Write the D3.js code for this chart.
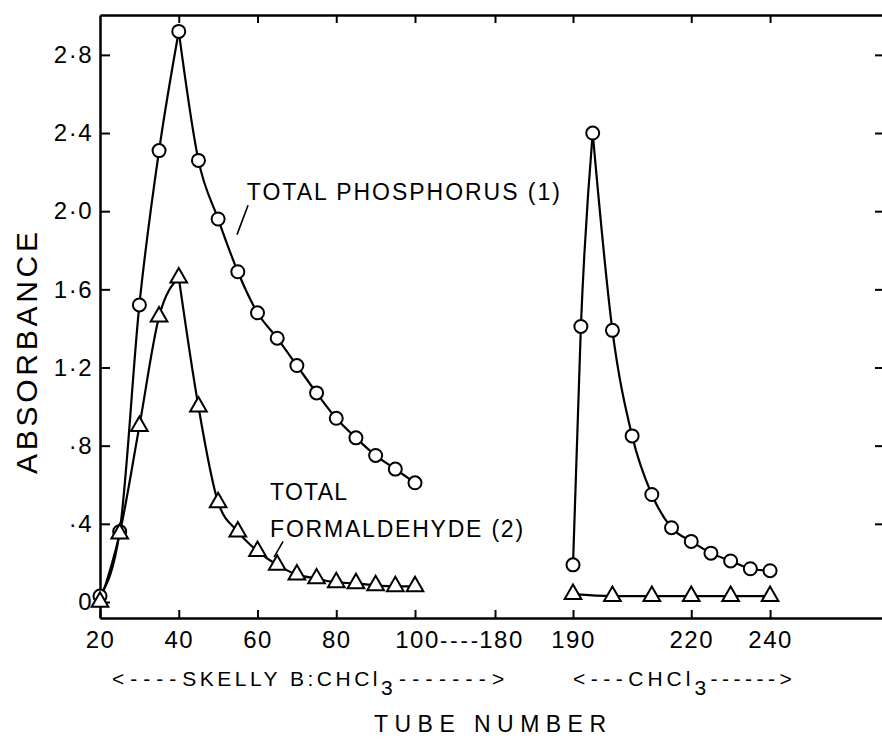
<!DOCTYPE html>
<html>
<head>
<meta charset="utf-8">
<script src="https://cdn.jsdelivr.net/npm/d3@7"></script>
<style>
  body { margin: 0; background: #fff; }
  svg { display: block; font-family: "Liberation Sans", Arial, sans-serif; }
</style>
</head>
<body>
<svg width="882" height="740"></svg>
<script>
// tube numbers and absorbance
var phosTubesA = [20, 25, 30, 35, 40, 45, 50, 55, 60, 65, 70, 75, 80, 85, 90, 95, 100];
var phosValsA = [0.03, 0.36, 1.52, 2.31, 2.92, 2.26, 1.96, 1.69, 1.48, 1.35, 1.21, 1.07, 0.94, 0.84, 0.75, 0.68, 0.61];
var formTubesA = [20, 25, 30, 35, 40, 45, 50, 55, 60, 65, 70, 75, 80, 85, 90, 95, 100];
var formValsA = [0, 0.35, 0.90, 1.46, 1.66, 1.00, 0.51, 0.36, 0.26, 0.19, 0.14, 0.12, 0.10, 0.095, 0.085, 0.08, 0.08];

var phosTubesB = [190, 192, 195, 200, 205, 210, 215, 220, 225, 230, 235, 240];
var phosValsB = [0.19, 1.41, 2.40, 1.39, 0.85, 0.55, 0.38, 0.31, 0.25, 0.21, 0.17, 0.16];
var formTubesB = [190, 200, 210, 220, 230, 240];
var formValsB = [0.04, 0.03, 0.03, 0.03, 0.03, 0.03];

var xTicks = [20, 40, 60, 80, 100, 180, 190, 220, 240];
var yTicks = [0, 0.4, 0.8, 1.2, 1.6, 2.0, 2.4, 2.8];

var svg = d3.select("svg");

// broken tube axis: 100 ---- 180 then 190...
var x = d3.scaleLinear()
  .domain([20, 100, 180, 190, 268.4])
  .range([100, 415, 495, 573, 882]);
var y = d3.scaleLinear()
  .domain([-0.082, 3.004])
  .range([618, 15]);

function fmtY(v) {
  if (v === 0) return "0";
  return d3.format(".1f")(v).replace(".", "\u00b7").replace(/^0\u00b7/, "\u00b7");
}

function styleAxis(g) {
  g.select(".domain").attr("stroke-width", 2.5);
  g.selectAll(".tick line").attr("stroke-width", 2);
  g.selectAll(".tick text").attr("font-size", 24).attr("fill", "#000")
    .attr("letter-spacing", 1.5)
    .attr("font-family", "Liberation Sans, Arial, sans-serif");
}

svg.append("g")
  .attr("transform", "translate(100,0)")
  .call(d3.axisLeft(y).tickValues(yTicks).tickFormat(fmtY).tickSizeInner(-10).tickSizeOuter(0).tickPadding(7))
  .call(styleAxis);

svg.append("g")
  .attr("transform", "translate(884,0)")
  .call(d3.axisRight(y).tickValues(yTicks.slice(1)).tickFormat("").tickSizeInner(-9).tickSizeOuter(0))
  .call(styleAxis);

var bottom = svg.append("g")
  .attr("transform", "translate(0,618)")
  .call(d3.axisBottom(x).tickValues(xTicks).tickFormat(d3.format("d")).tickSizeInner(-8).tickSizeOuter(0).tickPadding(13))
  .call(styleAxis);
bottom.selectAll(".tick text")
  .attr("dx", function (d) { return d === 100 ? 2 : d === 180 ? 6 : 0; });
bottom.append("text")
  .attr("x", x(100) + 25)
  .attr("y", 30)
  .attr("text-anchor", "start")
  .attr("font-size", 22)
  .attr("fill", "#000")
  .attr("textLength", 38)
  .attr("lengthAdjust", "spacing")
  .text("----");

svg.append("g")
  .attr("transform", "translate(0,15)")
  .call(d3.axisTop(x).tickValues(xTicks.slice(1)).tickFormat("").tickSizeInner(-8).tickSizeOuter(0))
  .call(styleAxis);

// curves, drawn as rise + fall so peaks stay sharp
function zipPts(t, v) { return t.map(function (d, i) { return [d, v[i]]; }); }

var line = d3.line()
  .x(function (d) { return x(d[0]); })
  .y(function (d) { return y(d[1]); })
  .curve(d3.curveMonotoneX);

function drawCurve(pts) {
  var peak = d3.maxIndex(pts, function (d) { return d[1]; });
  [pts.slice(0, peak + 1), pts.slice(peak)].forEach(function (part) {
    if (part.length < 2) return;
    svg.append("path")
      .attr("d", line(part))
      .attr("fill", "none")
      .attr("stroke", "#000")
      .attr("stroke-width", 2.2);
  });
}

var phosA = zipPts(phosTubesA, phosValsA), phosB = zipPts(phosTubesB, phosValsB);
var formA = zipPts(formTubesA, formValsA), formB = zipPts(formTubesB, formValsB);

drawCurve(phosA); drawCurve(phosB);
drawCurve(formA);
svg.append("path")
  .attr("d", line(formB))
  .attr("fill", "none").attr("stroke", "#000").attr("stroke-width", 2.2);

svg.selectAll(".circ")
  .data(phosA.concat(phosB))
  .enter().append("circle")
  .attr("class", "circ")
  .attr("cx", function (d) { return x(d[0]); })
  .attr("cy", function (d) { return y(d[1]); })
  .attr("r", 6.5)
  .attr("fill", "#fff")
  .attr("stroke", "#000")
  .attr("stroke-width", 2);

var tri = d3.symbol().type(d3.symbolTriangle).size(120);
svg.selectAll(".tri")
  .data(formA.concat(formB))
  .enter().append("path")
  .attr("class", "tri")
  .attr("d", tri)
  .attr("transform", function (d) { return "translate(" + x(d[0]) + "," + y(d[1]) + ")"; })
  .attr("fill", "#fff")
  .attr("stroke", "#000")
  .attr("stroke-width", 2);

// curve labels with leader strokes
var labels = [
  { text: "TOTAL PHOSPHORUS (1)", t: 57.3, v: 2.057, len: 313 },
  { text: "TOTAL", t: 63.2, v: 0.52, len: 77 },
  { text: "FORMALDEHYDE (2)", t: 63.2, v: 0.33, len: 253 }
];
var leaders = [
  [[57.6, 2.03], [54.8, 1.88]],
  [[66.5, 0.31], [64.2, 0.23]]
];

svg.selectAll(".lbl")
  .data(labels)
  .enter().append("text")
  .attr("class", "lbl")
  .attr("x", function (d) { return x(d.t); })
  .attr("y", function (d) { return y(d.v); })
  .attr("font-size", 23)
  .attr("textLength", function (d) { return d.len; })
  .attr("lengthAdjust", "spacing")
  .text(function (d) { return d.text; });

svg.selectAll(".leader")
  .data(leaders)
  .enter().append("path")
  .attr("class", "leader")
  .attr("d", d3.line().x(function (d) { return x(d[0]); }).y(function (d) { return y(d[1]); }))
  .attr("stroke", "#000")
  .attr("stroke-width", 1.6);

// solvent ranges under the axis
function solvent(x0, pre, word, post, sp) {
  var t = svg.append("text")
    .attr("x", x0)
    .attr("y", 686)
    .attr("font-size", 21);
  t.append("tspan").attr("letter-spacing", sp[0]).text(pre);
  t.append("tspan").attr("letter-spacing", sp[1]).text(word);
  t.append("tspan").attr("dy", 9).attr("letter-spacing", sp[2]).text("3");
  t.append("tspan").attr("dy", -9).attr("letter-spacing", sp[2]).text(post);
}
solvent(112, "<----", "SKELLY B:CHCl", "------->", [6, 3.5, 6.3]);
solvent(573, "<---", "CHCl", "------>", [5.5, 4, 4.5]);

svg.append("text")
  .attr("x", 490)
  .attr("y", 732)
  .attr("text-anchor", "middle")
  .attr("font-size", 23)
  .attr("textLength", 232)
  .attr("lengthAdjust", "spacing")
  .text("TUBE NUMBER");

svg.append("text")
  .attr("transform", "rotate(-90)")
  .attr("x", -353)
  .attr("y", 37)
  .attr("text-anchor", "middle")
  .attr("font-size", 30)
  .attr("textLength", 242)
  .attr("lengthAdjust", "spacing")
  .text("ABSORBANCE");
</script>
</body>
</html>
